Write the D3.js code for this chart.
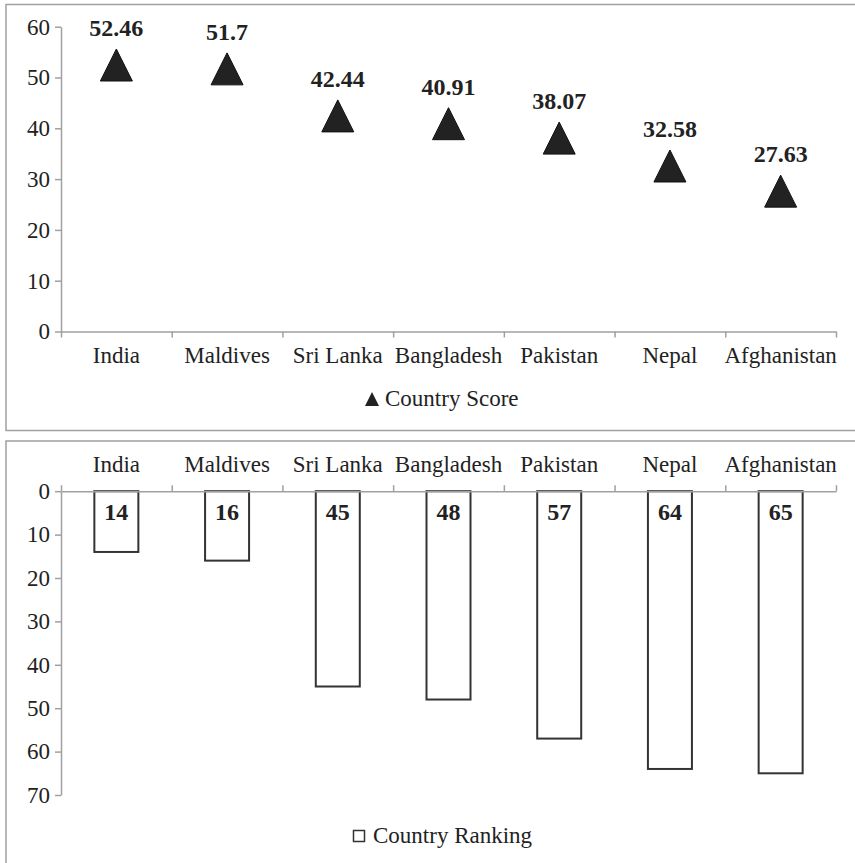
<!DOCTYPE html>
<html>
<head>
<meta charset="utf-8">
<script src="https://cdn.jsdelivr.net/npm/d3@7"></script>
<style>
  html, body { margin: 0; padding: 0; background: #fff; }
  svg { display: block; }
  text { font-family: "Liberation Serif", "Times New Roman", serif; fill: #222; }
</style>
</head>
<body>
<svg id="chart" width="855" height="863"></svg>
<script>
// Country data
const countries = ["India", "Maldives", "Sri Lanka", "Bangladesh", "Pakistan", "Nepal", "Afghanistan"];
const scores = [52.46, 51.7, 42.44, 40.91, 38.07, 32.58, 27.63];
const rankings = [14, 16, 45, 48, 57, 64, 65];
const scoreTicks = [0, 10, 20, 30, 40, 50, 60];
const rankTicks = [0, 10, 20, 30, 40, 50, 60, 70];

const svg = d3.select("#chart");
const axisColor = "#a0a0a0";
const plotLeft = 61, plotRight = 836;

// Panel frames
svg.append("rect").attr("x", 6).attr("y", 4.5).attr("width", 900).attr("height", 426)
  .attr("fill", "none").attr("stroke", axisColor).attr("stroke-width", 1.5);
svg.append("rect").attr("x", 6).attr("y", 441).attr("width", 900).attr("height", 500)
  .attr("fill", "none").attr("stroke", axisColor).attr("stroke-width", 1.5);

// Shared horizontal scales: band for marks, linear on index for category dividers
const xBand = d3.scaleBand().domain(countries).range([plotLeft, plotRight]);
const xIdx = d3.scaleLinear().domain([0, countries.length]).range([plotLeft, plotRight]);

function styleAxis(g) {
  g.selectAll("path.domain").attr("stroke", axisColor).attr("stroke-width", 1.5);
  g.selectAll(".tick line").attr("stroke", axisColor).attr("stroke-width", 1.5);
  g.selectAll(".tick text").attr("font-family", "Liberation Serif").attr("font-size", 23).attr("fill", "#222");
}

// ---------- Top panel: country score ----------
const yScore = d3.scaleLinear().domain([0, 60]).range([331.5, 26.7]);

svg.append("g").attr("transform", `translate(${plotLeft},0)`)
  .call(d3.axisLeft(yScore).tickValues(scoreTicks).tickSize(6).tickPadding(5).tickSizeOuter(0))
  .call(styleAxis);

svg.append("g").attr("transform", `translate(0,${yScore(0)})`)
  .call(d3.axisBottom(xIdx).tickValues(d3.range(countries.length + 1)).tickSize(6).tickSizeOuter(0).tickFormat(""))
  .call(styleAxis);

svg.append("g").selectAll("text").data(countries).join("text")
  .attr("x", d => xBand(d) + xBand.bandwidth() / 2)
  .attr("y", 362.5)
  .attr("text-anchor", "middle")
  .attr("font-size", 23)
  .text(d => d);

// Triangle marker with given width and height, centred on its box
function triPath(w, h) {
  return `M0,${-h / 2}L${w / 2},${h / 2}L${-w / 2},${h / 2}Z`;
}

const scoreData = countries.map((c, i) => ({ c, v: scores[i] }));

svg.append("g").selectAll("path").data(scoreData).join("path")
  .attr("d", triPath(32, 32))
  .attr("transform", d => `translate(${xBand(d.c) + xBand.bandwidth() / 2},${yScore(d.v)})`)
  .attr("fill", "#222")
  .attr("stroke", "#111")
  .attr("stroke-width", 1);

svg.append("g").selectAll("text").data(scoreData).join("text")
  .attr("x", d => xBand(d.c) + xBand.bandwidth() / 2)
  .attr("y", d => yScore(d.v) - 29)
  .attr("text-anchor", "middle")
  .attr("font-size", 24)
  .attr("font-weight", "bold")
  .text(d => d.v);

// Legend: Country Score
const lg1 = svg.append("g");
lg1.append("path").attr("d", triPath(14, 14)).attr("transform", "translate(372,399)").attr("fill", "#222");
lg1.append("text").attr("x", 385).attr("y", 405.5).attr("font-size", 23).text("Country Score");

// ---------- Bottom panel: country ranking ----------
const yRank = d3.scaleLinear().domain([0, 70]).range([491.2, 795]);

svg.append("g").attr("transform", `translate(${plotLeft},0)`)
  .call(d3.axisLeft(yRank).tickValues(rankTicks).tickSize(6).tickPadding(5).tickSizeOuter(0))
  .call(styleAxis);

const rankData = countries.map((c, i) => ({ c, v: rankings[i] }));
const barW = 44;

svg.append("g").selectAll("rect").data(rankData).join("rect")
  .attr("x", d => xBand(d.c) + xBand.bandwidth() / 2 - barW / 2)
  .attr("y", yRank(0))
  .attr("width", barW)
  .attr("height", d => yRank(d.v) - yRank(0))
  .attr("fill", "#fff")
  .attr("stroke", "#333")
  .attr("stroke-width", 2);

svg.append("g").attr("transform", `translate(0,${yRank(0)})`)
  .call(d3.axisTop(xIdx).tickValues(d3.range(countries.length + 1)).tickSize(6).tickSizeOuter(0).tickFormat(""))
  .call(styleAxis);

svg.append("g").selectAll("text").data(countries).join("text")
  .attr("x", d => xBand(d) + xBand.bandwidth() / 2)
  .attr("y", 471.5)
  .attr("text-anchor", "middle")
  .attr("font-size", 23)
  .text(d => d);

svg.append("g").selectAll("text").data(rankData).join("text")
  .attr("x", d => xBand(d.c) + xBand.bandwidth() / 2)
  .attr("y", yRank(0) + 29)
  .attr("text-anchor", "middle")
  .attr("font-size", 24)
  .attr("font-weight", "bold")
  .text(d => d.v);

// Legend: Country Ranking
const lg2 = svg.append("g");
lg2.append("rect").attr("x", 353.5).attr("y", 830.5).attr("width", 11).attr("height", 11)
  .attr("fill", "#fff").attr("stroke", "#333").attr("stroke-width", 1.5);
lg2.append("text").attr("x", 373).attr("y", 842.5).attr("font-size", 23).text("Country Ranking");
</script>
</body>
</html>
